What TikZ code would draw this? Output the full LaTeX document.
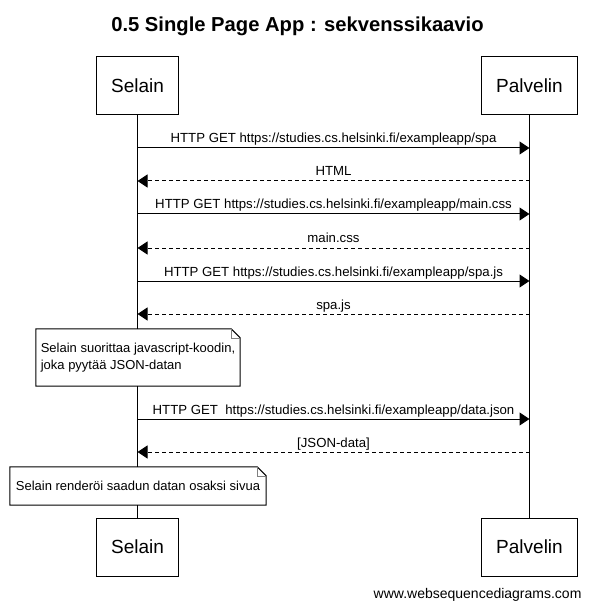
\documentclass[tikz,border=0pt]{standalone}
\usepackage{fontspec}
\setmainfont{Liberation Sans}
\usetikzlibrary{arrows.meta, positioning}
\tikzset{
	actor/.style={draw, rectangle, line width=1pt, inner xsep=14.5pt, inner ysep=0pt, minimum height=58pt, fill=white, font=\fontsize{19}{22}\selectfont},
	msg/.style={anchor=base, inner sep=0pt, yshift=5pt, font=\fontsize{13.2}{15}\selectfont},
	note/.style={rectangle, inner sep=0pt, fill=white, align=left, font=\fontsize{13}{17}\selectfont},
	call/.style={line width=1pt, -{Triangle[length=10pt, width=13pt]}},
	reply/.style={call, dash pattern=on 4pt off 3pt},
}

\begin{document}
\begin{tikzpicture}[x=1pt, y=-1pt]
	\useasboundingbox (0,0) rectangle (592,609);
	
	\node (title) [anchor=base, font=\fontsize{20.2}{24}\selectfont\bfseries] at (297.5,32) {0.5 Single Page App : sekvenssikaavio};
	
	% participants, top and bottom
	\node (selainA) [actor] at (137.5,86) {Selain};
	\node (palvelinA) [actor] at (529.5,86) {Palvelin};
	\node (selainB) [actor] at (137.5,547) {Selain};
	\node (palvelinB) [actor] at (529.5,547) {Palvelin};
	
	\draw [line width=1pt] (selainA) -- (selainB);
	\draw [line width=1pt] (palvelinA) -- (palvelinB);
	
	% points on the lifelines
	\coordinate (s1) at (selainA.south |- 0,148);  \coordinate (p1) at (palvelinA.south |- 0,148);
	\coordinate (s2) at (selainA.south |- 0,181);  \coordinate (p2) at (palvelinA.south |- 0,181);
	\coordinate (s3) at (selainA.south |- 0,214);  \coordinate (p3) at (palvelinA.south |- 0,214);
	\coordinate (s4) at (selainA.south |- 0,248);  \coordinate (p4) at (palvelinA.south |- 0,248);
	\coordinate (s5) at (selainA.south |- 0,281);  \coordinate (p5) at (palvelinA.south |- 0,281);
	\coordinate (s6) at (selainA.south |- 0,314);  \coordinate (p6) at (palvelinA.south |- 0,314);
	\coordinate (s7) at (selainA.south |- 0,419);  \coordinate (p7) at (palvelinA.south |- 0,419);
	\coordinate (s8) at (selainA.south |- 0,452);  \coordinate (p8) at (palvelinA.south |- 0,452);
	
	\draw [call] (s1) -- node (m1) [msg] {HTTP GET https://studies.cs.helsinki.fi/exampleapp/spa} (p1);
	\draw [reply] (p2) -- node (m2) [msg] {HTML} (s2);
	\draw [call] (s3) -- node (m3) [msg] {HTTP GET https://studies.cs.helsinki.fi/exampleapp/main.css} (p3);
	\draw [reply] (p4) -- node (m4) [msg] {main.css} (s4);
	\draw [call] (s5) -- node (m5) [msg] {HTTP GET https://studies.cs.helsinki.fi/exampleapp/spa.js} (p5);
	\draw [reply] (p6) -- node (m6) [msg] {spa.js} (s6);
	\draw [call] (s7) -- node (m7) [msg] {HTTP GET\ \ https://studies.cs.helsinki.fi/exampleapp/data.json} (p7);
	\draw [reply] (p8) -- node (m8) [msg] {[JSON-data]} (s8);
	
	% notes over the browser lifeline
	\node (note1) [note, minimum width=204pt, minimum height=57pt] at (138,357.5) {Selain suorittaa javascript-koodin,\\joka pyytää JSON-datan};
	\node (note2) [note, minimum width=256pt, minimum height=38pt] at (138,486) {Selain renderöi saadun datan osaksi sivua};
	\foreach \n in {note1, note2} {
		\draw [line width=1pt] (\n.south west) -- (\n.north west) -- ([xshift=-9pt]\n.north east) -- ([yshift=-9pt]\n.north east) -- (\n.south east) -- cycle;
		\draw [line width=0.6pt, gray] ([xshift=-9pt]\n.north east) |- ([yshift=-9pt]\n.north east);
	}
	
	\node (credit) [anchor=base east, font=\fontsize{14}{16}\selectfont] at (585,598) {www.websequencediagrams.com};
\end{tikzpicture}
\end{document}
